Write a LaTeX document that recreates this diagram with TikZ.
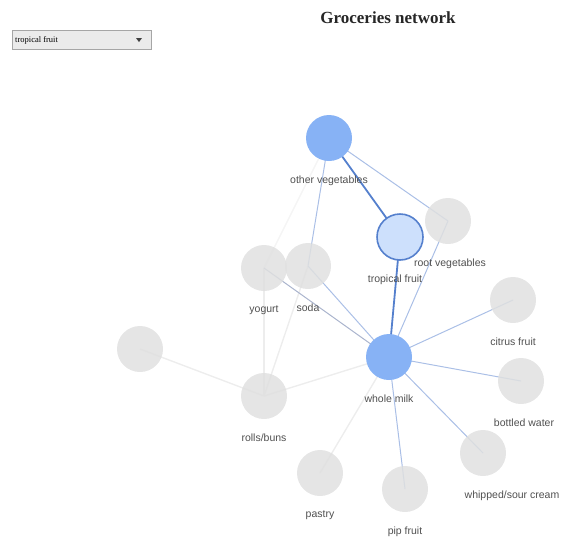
\documentclass[tikz,border=0pt]{standalone}
\usepackage{fontspec}
\setmainfont{Liberation Sans}
\newfontfamily\titlefont{Liberation Serif}
\usetikzlibrary{backgrounds}

\definecolor{hotblue}{RGB}{135,178,245}
\definecolor{pickblue}{RGB}{205,224,252}
\definecolor{rimblue}{RGB}{85,128,205}
\definecolor{idlegray}{RGB}{224,224,224}
\definecolor{textgray}{RGB}{80,80,80}
\definecolor{dullblue}{RGB}{170,180,205}

\begin{document}
\begin{tikzpicture}[
    x=1pt, y=-1pt,
    item/.style={circle, minimum size=46pt, inner sep=0pt},
    idle/.style={item, fill=idlegray, fill opacity=0.85},
    hot/.style={item, fill=hotblue},
    picked/.style={item, fill=pickblue, draw=rimblue, line width=1.6pt},
    lbl/.style={font=\fontsize{10.5}{12}\selectfont, text=textgray, label distance=11pt},
    strong/.style={draw=rimblue, line width=1.8pt},
    link/.style={draw=rimblue!50, line width=1pt},
    faint/.style={draw=black!7, line width=1.4pt}
  ]

  \useasboundingbox (0,0) rectangle (561,542);

  % Title and the selector box
  \node[font=\titlefont\bfseries\fontsize{17}{19}\selectfont, text=black!85] (title) at (388,18) {Groceries network};
  \node[draw=gray!70, fill=black!8, minimum width=139pt, minimum height=19pt, inner sep=0pt] (picker) at (81.5,40) {};
  \node[anchor=west, font=\titlefont\fontsize{8.5}{10}\selectfont, inner sep=0pt] (pickertext) at (15,40) {tropical fruit};
  \fill[black!75] (136,38) -- (142,38) -- (139,42) -- cycle;

  % Items
  \node[hot] (otherveg) at (329,138) [label={[lbl]below:other vegetables}] {};
  \node[idle] (rootveg) at (448,221) [label={[lbl, xshift=2pt]below:root vegetables}] {};
  \node[picked] (tropical) at (400,237) [label={[lbl, xshift=-5pt]below:tropical fruit}] {};
  \node[idle] (yogurt) at (264,268) [label={[lbl]below:yogurt}] {};
  \node[idle] (soda) at (308,266) [label={[lbl]below:soda}] {};
  \node[idle] (citrus) at (513,300) [label={[lbl]below:citrus fruit}] {};
  \node[idle] (loner) at (140,349) {};
  \node[hot] (milk) at (389,357) [label={[lbl]below:whole milk}] {};
  \node[idle] (water) at (521,381) [label={[lbl, xshift=3pt]below:bottled water}] {};
  \node[idle] (rolls) at (264,396) [label={[lbl]below:rolls/buns}] {};
  \node[idle] (cream) at (483,453) [label={[lbl, xshift=29pt]below:whipped/sour cream}] {};
  \node[idle] (pastry) at (320,473) [label={[lbl]below:pastry}] {};
  \node[idle] (pipfruit) at (405,489) [label={[lbl]below:pip fruit}] {};

  % Links, behind the items
  \begin{scope}[on background layer]
    \draw[faint] (loner.center) -- (rolls.center);
    \draw[faint] (yogurt.center) -- (rolls.center);
    \draw[faint] (soda.center) -- (rolls.center);
    \draw[faint] (rolls.center) -- (milk.center);
    \draw[faint] (pastry.center) -- (milk.center);
    \draw[faint, draw=black!4] (otherveg.center) -- (yogurt.center);

    \draw[link] (otherveg.center) -- (rootveg.center);
    \draw[link] (otherveg.center) -- (soda.center);
    \draw[link] (rootveg.center) -- (milk.center);
    \draw[link, draw=dullblue] (yogurt.center) -- (milk.center);
    \draw[link] (soda.center) -- (milk.center);
    \draw[link] (milk.center) -- (citrus.center);
    \draw[link] (milk.center) -- (water.center);
    \draw[link] (milk.center) -- (cream.center);
    \draw[link] (milk.center) -- (pipfruit.center);

    \draw[strong] (otherveg.center) -- (tropical.center);
    \draw[strong] (tropical.center) -- (milk.center);
  \end{scope}

\end{tikzpicture}
\end{document}
